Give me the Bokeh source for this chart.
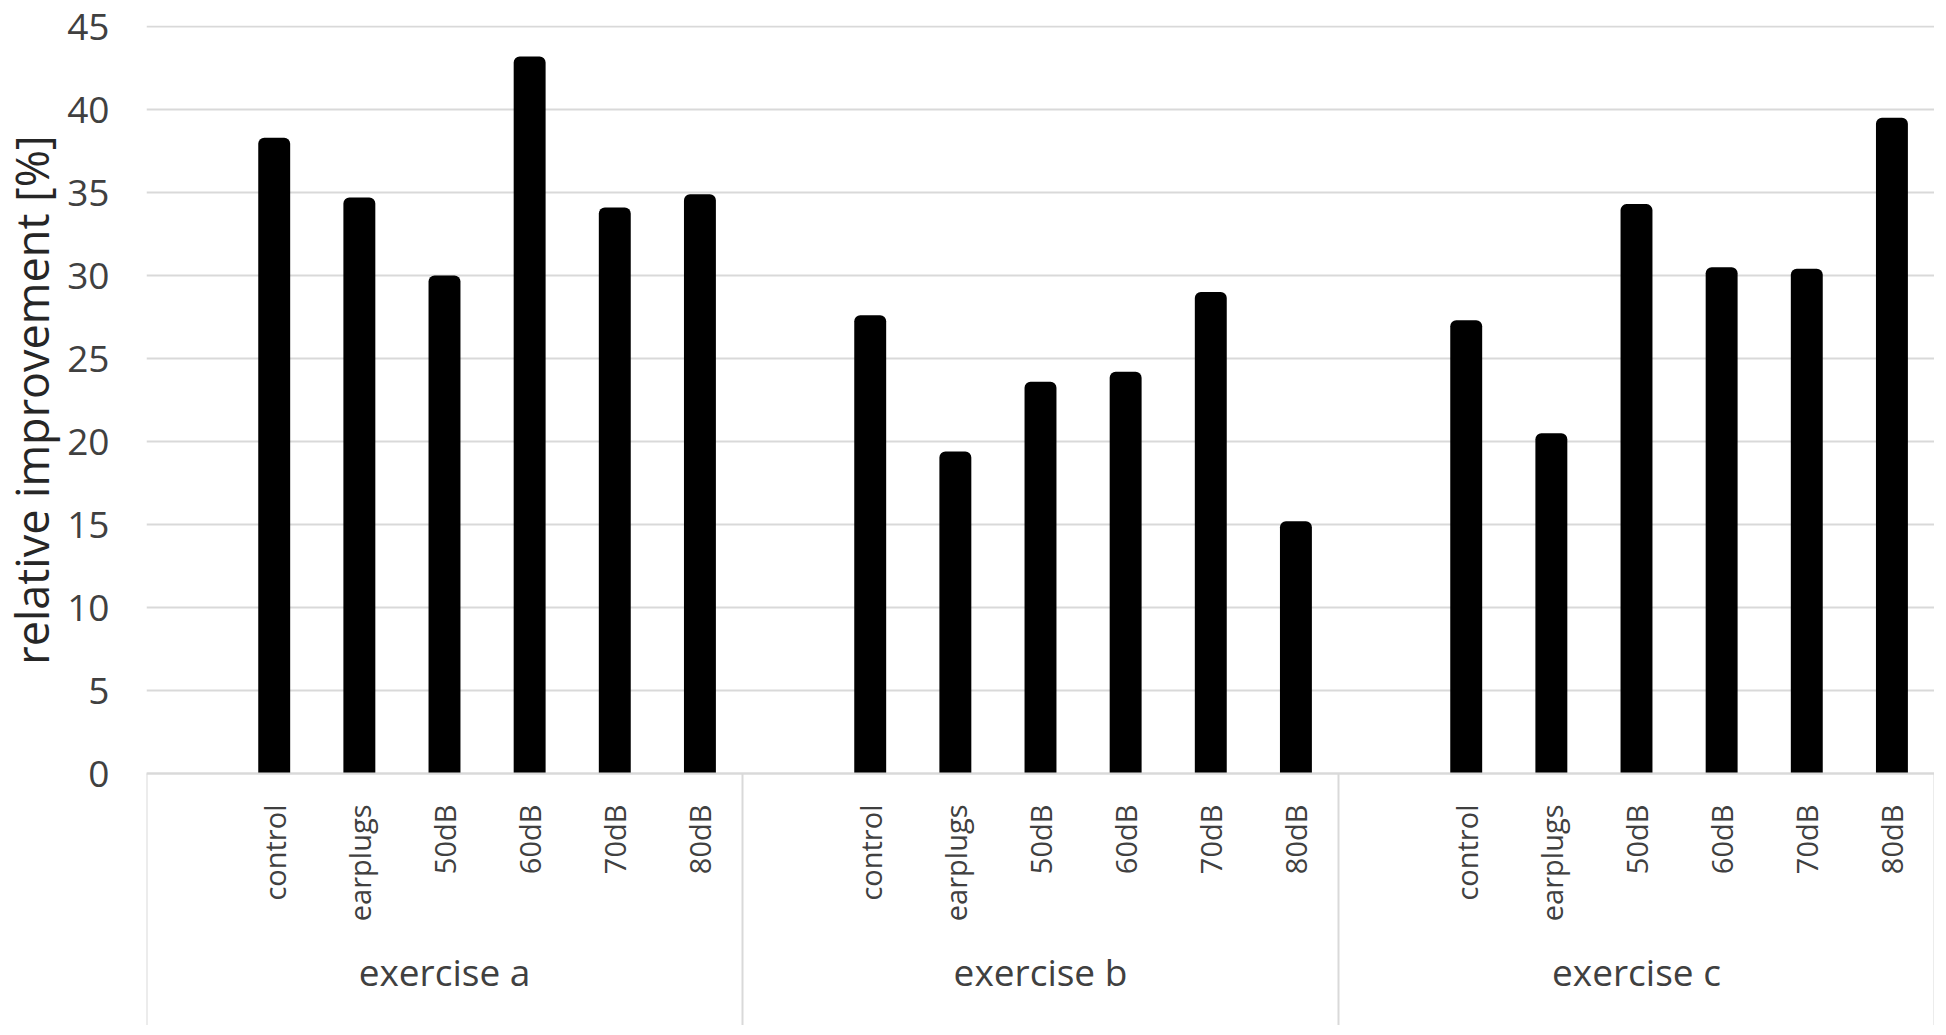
import math
from bokeh.plotting import figure
from bokeh.layouts import row
from bokeh.models import FactorRange, Range1d, FixedTicker, ColumnDataSource
from bokeh.core.properties import value
from bokeh.embed import file_html
from bokeh.resources import INLINE

# ---- data ----
groups = ["exercise a", "exercise b", "exercise c"]
conditions = ["control", "earplugs", "50dB", "60dB", "70dB", "80dB"]
exercise_a = [38.3, 34.7, 30.0, 43.2, 34.1, 34.9]
exercise_b = [27.6, 19.4, 23.6, 24.2, 29.0, 15.2]
exercise_c = [27.3, 20.5, 34.3, 30.5, 30.4, 39.5]
y_ticks = [0, 5, 10, 15, 20, 25, 30, 35, 40, 45]
y_title = "relative improvement [%]"

# ---- layout / style ----
FONT = value("Open Sans")
GRID = "#d9d9d9"
TXT = "#404040"
W, H = 1934, 1025
TITLE_W = 64
TITLE_X = 31
TOP_BORDER = 25
TOP_TICK_PX = 26      # pixel row of the top gridline
BASELINE_PX = 773     # pixel row of the zero line
PX_PER_UNIT = (BASELINE_PX - TOP_TICK_PX) / (y_ticks[-1] - y_ticks[0])
Y_END = y_ticks[-1] + (TOP_TICK_PX - TOP_BORDER) / PX_PER_UNIT
Y_START = Y_END - (H - TOP_BORDER) / PX_PER_UNIT
GROUP_LABEL_Y = -198 / PX_PER_UNIT

series = [exercise_a, exercise_b, exercise_c]
blank = ""
factors = [(g, c) for g in groups for c in [blank] + conditions]
src = ColumnDataSource(dict(
    x=[(g, c) for g in groups for c in conditions],
    top=[v for s in series for v in s],
))

y_range = Range1d(Y_START, Y_END)

p = figure(
    width=W - TITLE_W, height=H,
    x_range=FactorRange(*factors, factor_padding=0, group_padding=0, range_padding=0),
    y_range=y_range,
    output_backend="svg", toolbar_location=None,
    min_border_left=146 - TITLE_W, min_border_right=0, min_border_top=TOP_BORDER, min_border_bottom=0,
)
p.outline_line_color = None

# group separators in the category-axis area
n_slots = len(conditions) + 1
bounds = [i * n_slots for i in range(len(groups) + 1)]
p.segment(x0=bounds, y0=[0] * len(bounds), x1=bounds, y1=[Y_START] * len(bounds),
          line_color=GRID, line_width=2)

p.vbar(x="x", top="top", bottom=0, width=0.375, source=src,
       fill_color="black", line_color=None, border_radius=(6, 6, 0, 0))

# group labels
p.text(x=groups, y=[GROUP_LABEL_Y] * len(groups), text=groups,
       text_font=FONT, text_font_size="37px", text_color=TXT,
       text_align="center", text_baseline="middle")

# x axis
xa = p.xaxis[0]
xa.fixed_location = 0
xa.axis_line_color = GRID
xa.axis_line_width = 2
xa.major_tick_line_color = None
xa.minor_tick_line_color = None
xa.major_label_orientation = math.pi / 2
xa.major_label_standoff = 25
xa.major_label_text_font = "Open Sans"
xa.major_label_text_font_size = "29px"
xa.major_label_text_color = TXT
xa.group_text_color = None
xa.separator_line_color = None

# y axis
ya = p.yaxis[0]
ya.ticker = FixedTicker(ticks=y_ticks)
ya.axis_line_color = None
ya.major_tick_line_color = None
ya.minor_tick_line_color = None
ya.major_label_standoff = 31
ya.major_label_text_font = "Open Sans"
ya.major_label_text_font_size = "37px"
ya.major_label_text_color = TXT

p.xgrid.grid_line_color = None
p.ygrid.grid_line_color = GRID
p.ygrid.grid_line_width = 2

# narrow strip on the left holding the y title, centred on the 0..45 span
t = figure(
    width=TITLE_W, height=H, x_range=Range1d(0, TITLE_W), y_range=y_range,
    output_backend="svg", toolbar_location=None,
    min_border_left=0, min_border_right=0, min_border_top=TOP_BORDER, min_border_bottom=0,
)
t.axis.visible = False
t.grid.grid_line_color = None
t.outline_line_color = None
t.text(x=[TITLE_X], y=[(y_ticks[0] + y_ticks[-1]) / 2], text=[y_title], angle=math.pi / 2,
       text_font=FONT, text_font_size="45px", text_color="#262626",
       text_align="center", text_baseline="middle")

layout = row(t, p, spacing=0)
open("out.html", "w").write(file_html(layout, INLINE))
